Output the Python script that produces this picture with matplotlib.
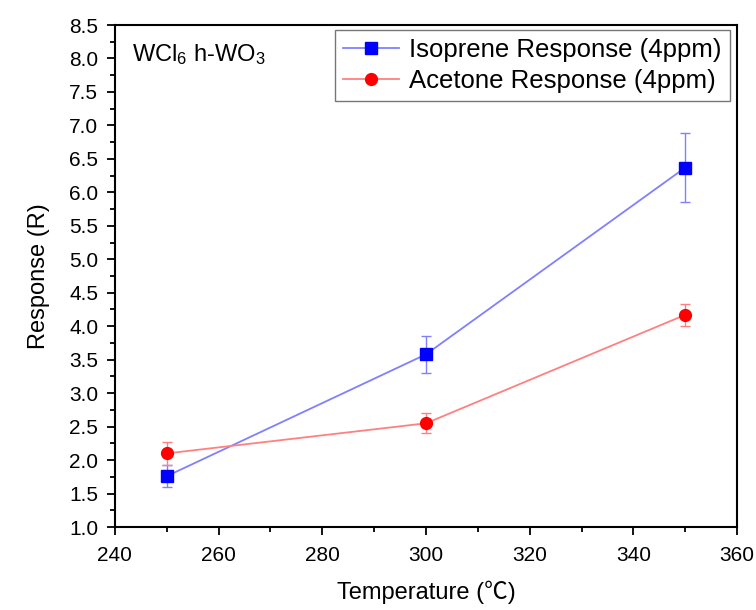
import matplotlib
matplotlib.use("Agg")
import matplotlib.pyplot as plt
from matplotlib.ticker import MultipleLocator, FormatStrFormatter
from matplotlib.lines import Line2D

plt.rcParams['font.family'] = ['Liberation Sans', 'DejaVu Sans']
plt.rcParams['mathtext.fontset'] = 'custom'
plt.rcParams['mathtext.rm'] = 'Liberation Sans'
plt.rcParams['mathtext.it'] = 'Liberation Sans'

temps = [250, 300, 350]
isoprene = [1.76, 3.58, 6.37]
isoprene_err = [0.16, 0.28, 0.52]
acetone = [2.10, 2.55, 4.17]
acetone_err = [0.17, 0.15, 0.16]
series_labels = ['Isoprene Response (4ppm)', 'Acetone Response (4ppm)']

fig = plt.figure(figsize=(7.56, 6.10), dpi=100)
ax = fig.add_axes([0.152, 0.136, 0.823, 0.823])

ax.errorbar(temps, isoprene, yerr=isoprene_err, color='#8080ff', lw=1.3,
            marker='s', ms=8, mfc='#0000ff', mec='#0000ff',
            ecolor='#8080ff', elinewidth=1.0, capsize=3.5, zorder=3)
ax.errorbar(temps, acetone, yerr=acetone_err, color='#ff8080', lw=1.3,
            marker='o', ms=8.5, mfc='#ff0000', mec='#ff0000',
            ecolor='#ff8080', elinewidth=1.0, capsize=3.5, zorder=3)

ax.set_xlim(240, 360)
ax.set_ylim(1.0, 8.5)
ax.xaxis.set_major_locator(MultipleLocator(20))
ax.xaxis.set_minor_locator(MultipleLocator(10))
ax.yaxis.set_major_locator(MultipleLocator(0.5))
ax.yaxis.set_minor_locator(MultipleLocator(0.25))
ax.yaxis.set_major_formatter(FormatStrFormatter('%.1f'))

ax.tick_params(which='both', direction='out', top=False, right=False, width=1.3)
ax.tick_params(which='major', length=6, labelsize=15)
ax.tick_params(axis='x', which='major', pad=8)
ax.tick_params(axis='y', which='major', pad=6)
ax.tick_params(which='minor', length=3.5)
for s in ax.spines.values():
    s.set_linewidth(1.5)

ax.set_xlabel('Temperature (℃)', fontsize=17, labelpad=11,
              family=['Liberation Sans', 'Noto Sans CJK SC'])
ax.set_ylabel('Response (R)', fontsize=17, labelpad=14)

ax.text(0.028, 0.965, 'WCl$_6$ h-WO$_3$', transform=ax.transAxes, fontsize=17,
        va='top', ha='left')

handles = [
    Line2D([], [], color='#8080ff', lw=1.3, marker='s', ms=8,
           mfc='#0000ff', mec='#0000ff'),
    Line2D([], [], color='#ff8080', lw=1.3, marker='o', ms=8.5,
           mfc='#ff0000', mec='#ff0000'),
]
leg = ax.legend(handles, series_labels, loc='upper right', fontsize=18.5,
                frameon=True, fancybox=False, edgecolor='#555555',
                handlelength=2.2, borderpad=0.3, labelspacing=0.3,
                handletextpad=0.4, borderaxespad=0.0,
                bbox_to_anchor=(0.988, 0.99))
leg.get_frame().set_linewidth(1.0)

fig.savefig('out.png', dpi=100)
